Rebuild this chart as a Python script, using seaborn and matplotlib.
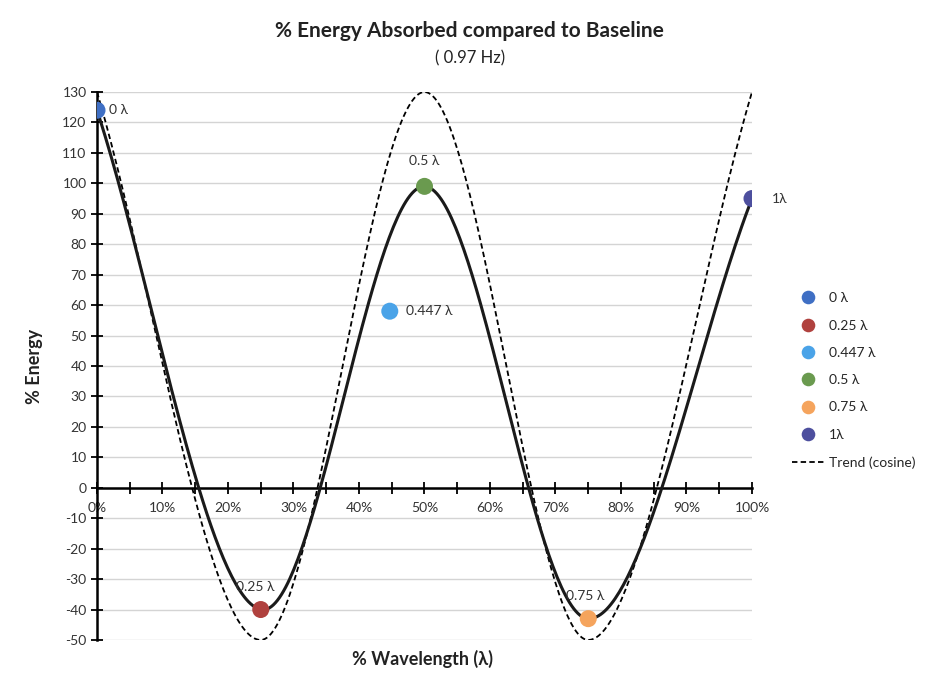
import numpy as np
import pandas as pd
import matplotlib
matplotlib.use("Agg")
import matplotlib.pyplot as plt
import seaborn as sns

# measured points (% wavelength, % energy)
labels = ["0 λ", "0.25 λ", "0.447 λ", "0.5 λ", "0.75 λ", "1λ"]
wavelength = [0, 25, 44.7, 50, 75, 100]
energy = [124, -40, 58, 99, -43, 95]
colors = ["#3f6fc4", "#b0413e", "#4aa3e8", "#6a9a4f", "#f5a45d", "#4d4f9e"]

# points joined by the smooth black line
curve_idx = [0, 1, 3, 4, 5]

# cosine trend values at the quarter-wavelength points
trend_x = [0, 25, 50, 75, 100]
trend_y = [130, -50, 130, -50, 130]

yticks = list(range(-50, 131, 10))
xticks = list(range(0, 101, 10))

sns.set_theme(style="white")
plt.rcParams["font.family"] = ["Lato", "DejaVu Sans"]
plt.rcParams["axes.unicode_minus"] = False


def smooth(xs, ys, n=80):
    # Catmull-Rom style smoothing, like a spreadsheet "smoothed line"
    xs = np.asarray(xs, float)
    ys = np.asarray(ys, float)
    px = np.concatenate([[2 * xs[0] - xs[1]], xs, [2 * xs[-1] - xs[-2]]])
    py = np.concatenate([[2 * ys[0] - ys[1]], ys, [2 * ys[-1] - ys[-2]]])
    ox, oy = [], []
    t = np.linspace(0, 1, n)
    for i in range(1, len(px) - 2):
        for arr, out in ((px, ox), (py, oy)):
            p0, p1, p2, p3 = arr[i - 1], arr[i], arr[i + 1], arr[i + 2]
            out.extend(0.5 * ((2 * p1) + (-p0 + p2) * t
                              + (2 * p0 - 5 * p1 + 4 * p2 - p3) * t ** 2
                              + (-p0 + 3 * p1 - 3 * p2 + p3) * t ** 3))
    return np.array(ox), np.array(oy)


cx, cy = smooth([wavelength[i] for i in curve_idx], [energy[i] for i in curve_idx])
curve = pd.DataFrame({"x": cx, "y": cy})

tx, ty = smooth(trend_x, trend_y)
trend = pd.DataFrame({"x": tx, "y": ty})

pts = pd.DataFrame({"x": wavelength, "y": energy, "label": labels})

fig = plt.figure(figsize=(9.3, 6.83), dpi=100)
ax = fig.add_axes([0.1043, 0.063, 0.7043, 0.8023])

for yv in yticks:
    ax.axhline(yv, color="#d4d4d4", lw=1, zorder=0)

sns.lineplot(data=trend, x="x", y="y", ax=ax, color="black", lw=1.3, sort=False,
             linestyle=(0, (3, 1.8)), label="Trend (cosine)", zorder=2)
sns.lineplot(data=curve, x="x", y="y", ax=ax, color="#1a1a1a", lw=2.2, sort=False,
             label="_nolegend_", zorder=3)
sns.scatterplot(data=pts, x="x", y="y", hue="label", palette=colors, s=150,
                edgecolor="none", ax=ax, zorder=5)

# point labels
offsets = [(9, 0, "left", "center"), (-4, 12, "center", "bottom"),
           (12, 0, "left", "center"), (0, 14, "center", "bottom"),
           (-2, 12, "center", "bottom"), (14, 0, "left", "center")]
for (x, y, lab), (dx, dy, ha, va) in zip(zip(wavelength, energy, labels), offsets):
    ax.annotate(lab, (x, y), xytext=(dx, dy), textcoords="offset points",
                ha=ha, va=va, fontsize=10, color="#333333", zorder=6)

ax.set_xlim(0, 100)
ax.set_ylim(-50, 130)
ax.set_yticks(yticks)
ax.set_xticks(xticks)
ax.set_xticks(list(range(5, 100, 10)), minor=True)
ax.set_xticklabels([f"{v}%" for v in xticks])
ax.tick_params(axis="both", labelsize=10, colors="#333333")
ax.tick_params(axis="y", left=True, direction="inout", length=8, width=1.3,
               color="black")
ax.tick_params(axis="x", which="both", bottom=True, direction="inout", length=8,
               width=1.3, color="black", pad=6)

for s in ["top", "right"]:
    ax.spines[s].set_visible(False)
ax.spines["left"].set_color("black")
ax.spines["left"].set_linewidth(1.8)
ax.spines["bottom"].set_position(("data", 0))
ax.spines["bottom"].set_color("black")
ax.spines["bottom"].set_linewidth(1.8)

ax.set_xlabel("")
ax.set_ylabel("% Energy", fontsize=13, fontweight="bold", color="#222222", labelpad=14)
fig.text(0.4548, 0.035, "% Wavelength (λ)", ha="center", va="center",
         fontsize=13, fontweight="bold", color="#222222")

fig.text(0.505, 0.955, "% Energy Absorbed compared to Baseline", ha="center",
         va="center", fontsize=15, fontweight="bold", color="#222222")
fig.text(0.505, 0.914, "( 0.97 Hz)", ha="center", va="center", fontsize=12,
         color="#222222")

handles, labs = ax.get_legend_handles_labels()
ax.get_legend().remove()
order = [labs.index(l) for l in labels] + [labs.index("Trend (cosine)")]
fig.legend([handles[i] for i in order], [labs[i] for i in order],
           loc="center left", bbox_to_anchor=(0.838, 0.443), frameon=False,
           fontsize=10, handlelength=2.3, handletextpad=0.4,
           labelspacing=1.1, markerscale=0.8)

fig.savefig("out.png", dpi=100)
